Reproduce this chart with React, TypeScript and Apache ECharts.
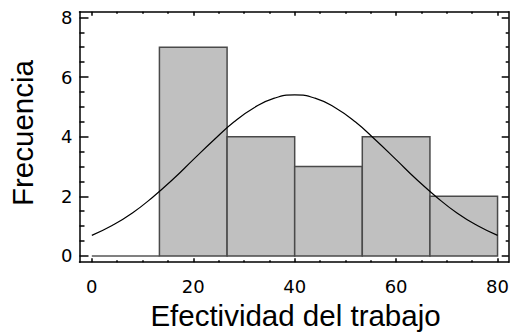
import React, { useEffect, useRef } from "react";
import * as echarts from "echarts";

const binStarts = [0, 13.33, 26.67, 40, 53.33, 66.67];
const binEnds = [13.33, 26.67, 40, 53.33, 66.67, 80];
const counts = [0, 7, 4, 3, 4, 2];

const curveX = [0, 4, 8, 12, 16, 20, 24, 28, 32, 36, 40, 44, 48, 52, 56, 60, 64, 68, 72, 76, 80];
const curveY = [0.69, 1.02, 1.44, 1.97, 2.57, 3.23, 3.88, 4.49, 4.97, 5.29, 5.4, 5.29, 4.97, 4.49, 3.88, 3.23, 2.57, 1.97, 1.44, 1.02, 0.69];

const xMajorTicks = [0, 20, 40, 60, 80];
const xMinorTicks = [5, 10, 15, 25, 30, 35, 45, 50, 55, 65, 70, 75];
const yMajorTicks = [0, 2, 4, 6, 8];
const yMinorTicks = [0.5, 1, 1.5, 2.5, 3, 3.5, 4.5, 5, 5.5, 6.5, 7, 7.5];

const xTitle = "Efectividad del trabajo";
const yTitle = "Frecuencia";

const FONT = "'Liberation Sans', Arial, sans-serif";
const TICK_FONT = "'DejaVu Sans', 'Liberation Sans', sans-serif";
const X_MIN = -2.43;
const X_MAX = 82.2;
const Y_MIN = -0.21;
const Y_MAX = 8.19;

function xAxisDef(position: "top" | "bottom", ticks: number[], len: number, labels: boolean, line: boolean) {
  return {
    type: "value",
    position,
    min: X_MIN,
    max: X_MAX,
    splitLine: { show: false },
    axisLine: { show: line, onZero: false, lineStyle: { color: "#000", width: 1.5 } },
    axisTick: { show: true, inside: true, length: len, customValues: ticks, lineStyle: { color: "#000", width: 1.5 } },
    axisLabel: labels
      ? { show: true, customValues: ticks, margin: 15, color: "#000", fontSize: 18, fontFamily: TICK_FONT, formatter: (v: number) => String(v) }
      : { show: false },
  };
}

function yAxisDef(position: "left" | "right", ticks: number[], len: number, labels: boolean, line: boolean) {
  return {
    type: "value",
    position,
    min: Y_MIN,
    max: Y_MAX,
    splitLine: { show: false },
    axisLine: { show: line, onZero: false, lineStyle: { color: "#000", width: 1.5 } },
    axisTick: { show: true, inside: true, length: len, customValues: ticks, lineStyle: { color: "#000", width: 1.5 } },
    axisLabel: labels
      ? { show: true, customValues: ticks, margin: 7, color: "#000", fontSize: 18, fontFamily: TICK_FONT, formatter: (v: number) => String(v) }
      : { show: false },
  };
}

export default function App() {
  const ref = useRef<HTMLDivElement>(null);
  useEffect(() => {
    if (!ref.current) return;
    const chart = echarts.init(ref.current, null, { renderer: "svg" });
    const barData = binStarts.map((s, i) => [s, binEnds[i], counts[i]]);
    const lineData = curveX.map((x, i) => [x, curveY[i]]);
    chart.setOption({
      animation: false,
      backgroundColor: "#fff",
      grid: { left: 79.5, right: 1.2, top: 11.7, bottom: 70.8, containLabel: false },
      xAxis: [
        xAxisDef("bottom", xMajorTicks, 4, true, true),
        xAxisDef("bottom", xMinorTicks, 2, false, false),
        xAxisDef("top", xMajorTicks, 4, false, true),
        xAxisDef("top", xMinorTicks, 2, false, false),
      ],
      yAxis: [
        yAxisDef("left", yMajorTicks, 9, true, true),
        yAxisDef("left", yMinorTicks, 5, false, false),
        yAxisDef("right", yMajorTicks, 7, false, true),
        yAxisDef("right", yMinorTicks, 3, false, false),
      ],
      series: [
        {
          type: "custom",
          xAxisIndex: 0,
          yAxisIndex: 0,
          encode: { x: [0, 1], y: 2 },
          data: barData,
          renderItem: (params: any, api: any) => {
            const s = api.value(0);
            const e = api.value(1);
            const c = api.value(2);
            const p1 = api.coord([s, c]);
            const p2 = api.coord([e, 0]);
            return {
              type: "rect",
              shape: { x: p1[0], y: p1[1], width: p2[0] - p1[0], height: p2[1] - p1[1] },
              style: {
                fill: c > 0 ? "#c0c0c0" : "none",
                stroke: c > 0 ? "#4a4a4a" : "#808080",
                lineWidth: c > 0 ? 1.5 : 2,
              },
            };
          },
        },
        {
          type: "line",
          xAxisIndex: 0,
          yAxisIndex: 0,
          data: lineData,
          smooth: true,
          showSymbol: false,
          symbol: "none",
          lineStyle: { color: "#000", width: 1.2 },
          z: 5,
        },
      ],
      graphic: [
        {
          type: "text",
          x: 295.5,
          y: 315,
          style: { text: xTitle, fontSize: 29.5, fontFamily: FONT, fill: "#000", textAlign: "center", textVerticalAlign: "middle" },
        },
        {
          type: "text",
          x: 22.5,
          y: 133,
          rotation: Math.PI / 2,
          style: { text: yTitle, fontSize: 29.5, fontFamily: FONT, fill: "#000", textAlign: "center", textVerticalAlign: "middle" },
        },
      ],
    });
    return () => chart.dispose();
  }, []);
  return (
    <div
      ref={ref}
      style={{ position: "absolute", left: 0, top: 0, width: 512, height: 333, background: "#fff" }}
    />
  );
}
